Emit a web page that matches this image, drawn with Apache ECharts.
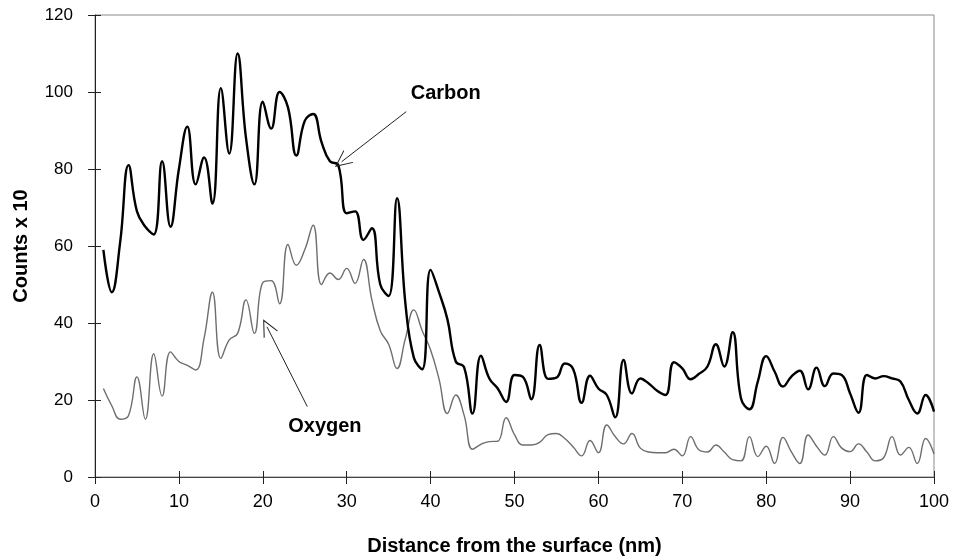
<!DOCTYPE html>
<html>
<head>
<meta charset="utf-8">
<script src="https://cdn.jsdelivr.net/npm/echarts@6/dist/echarts.min.js"></script>
<style>
html,body{margin:0;padding:0;background:#fff;}
#chart{width:954px;height:558px;}
</style>
</head>
<body>
<div id="chart"></div>
<script>
// Distance from the surface (nm)
const distance = [1,2,3,4,5,6,7,8,9,10,11,12,13,14,15,16,17,18,19,20,
  21,22,23,24,25,26,27,28,29,30,31,32,33,34,35,36,37,38,39,40,
  41,42,43,44,45,46,47,48,49,50,51,52,53,54,55,56,57,58,59,60,
  61,62,63,64,65,66,67,68,69,70,71,72,73,74,75,76,77,78,79,80,
  81,82,83,84,85,86,87,88,89,90,91,92,93,94,95,96,97,98,99,100];

// Counts x 10
const carbon = [59,48,61,81,69,65,63,82,65,80,91,76,83,71,101,84,110,88,76,97.5,
  90.5,100,96,83.5,92.5,94.3,87,82,81,68.5,69,61.6,64.6,50,47,72.4,45,31,28,53.8,
  48,41,30,28.5,16.5,31.5,25.6,23,19.5,26.5,26,20.2,34.3,25.5,25.8,29.5,28,19.3,26.3,23,
  21.3,15.5,30.4,21.7,25.6,24.3,22.4,21.3,29.8,28.2,25.4,26.8,28.7,34.5,28.7,37.6,20.4,17.6,24.8,31.4,
  27.4,23.5,26.1,27.6,22.8,28.4,23.6,26.9,26.5,21.7,16.7,26.5,25.6,26.2,25.6,24.8,20,16.5,21.3,17];

const oxygen = [23,18.5,15,16,26,15,32,21,32.5,30,29,27.8,36,48,30.8,35.6,37.3,46,37.3,50.5,
  51,45,60.4,55,59,65.4,50,53,51.3,54.2,50.3,56.5,46,38,34.5,28.2,36,43.4,38,33,
  25.5,16.5,21.3,16,7.2,8.5,9.2,9.3,15.4,11,8.3,8.3,9,11,11.3,10,7.8,5.5,9.5,6.3,
  13.5,10.5,8.6,11.3,7.5,6.5,6.3,6.3,7.2,5.5,10.5,7,6.5,8.3,6.5,4.5,4.2,10.5,5.3,8,
  3.5,10.3,6.5,3.5,10.9,8,5.7,10.5,7.5,6.6,8.6,6.5,4.2,5,10.5,5.7,7.7,3.5,10,6];

const xTicks = [0,10,20,30,40,50,60,70,80,90,100];
const yTicks = [0,20,40,60,80,100,120];

// annotation anchors in data units
const carbonLabel = {text:'Carbon', at:[41.8, 99.6], arrowFrom:[37.1, 94.9], arrowTo:[29.4, 81.9]};
const oxygenLabel = {text:'Oxygen', at:[27.4, 13.0], arrowFrom:[25.3, 18.3], arrowTo:[20.5, 39.0]};

const FONT = '"Liberation Sans", Arial, sans-serif';
const chevron = 'path://M0,10 L5,0 L10,10 L9.3,10 L5,1.4 L0.7,10 Z';

const pairs = (ys) => distance.map((x, i) => [x, ys[i]]);

const chart = echarts.init(document.getElementById('chart'), null, {renderer:'canvas'});

function annot(a) {
  return {
    markLine: {
      silent: true,
      symbol: ['none', chevron],
      symbolSize: [16, 17],
      lineStyle: {color:'#222', width:1, type:'solid'},
      label: {show:false},
      data: [[{coord:a.arrowFrom}, {coord:a.arrowTo}]]
    },
    markPoint: {
      silent: true,
      symbol: 'rect',
      symbolSize: [1,1],
      itemStyle: {color:'rgba(0,0,0,0)'},
      label: {show:true, position:'inside', formatter:a.text, color:'#000',
              fontFamily:FONT, fontWeight:'bold', fontSize:20},
      data: [{coord:a.at}]
    }
  };
}

const baseX = {type:'value', min:0, max:100, interval:10, splitLine:{show:false}};
const baseY = {type:'value', min:0, max:120, interval:20, splitLine:{show:false}};

chart.setOption({
  animation: false,
  backgroundColor: '#fff',
  grid: {left:95, right:20, top:15, bottom:81, show:true, borderColor:'#8a8a8a', borderWidth:1,
         containLabel:false, outerBoundsMode:'none'},
  xAxis: [
    Object.assign({}, baseX, {
      name:'Distance from the surface (nm)', nameLocation:'middle', nameGap:59,
      nameTextStyle:{fontFamily:FONT, fontWeight:'bold', fontSize:20, color:'#000'},
      axisLine:{show:true, onZero:false, lineStyle:{color:'#444', width:1}},
      axisTick:{show:true, length:7, lineStyle:{color:'#222'}},
      axisLabel:{fontFamily:FONT, fontSize:18, color:'#000', margin:16,
        formatter:(v)=> xTicks.includes(v) ? String(v) : ''}
    }),
    Object.assign({}, baseX, {
      position:'bottom',
      axisLine:{show:false, onZero:false},
      axisTick:{show:true, inside:true, length:6, lineStyle:{color:'#222'}},
      axisLabel:{show:false}
    })
  ],
  yAxis: [
    Object.assign({}, baseY, {
      name:'Counts x 10', nameLocation:'middle', nameGap:64,
      nameTextStyle:{fontFamily:FONT, fontWeight:'bold', fontSize:20, color:'#000'},
      axisLine:{show:true, lineStyle:{color:'#222', width:1}},
      axisTick:{show:true, length:7, lineStyle:{color:'#222'}},
      axisLabel:{fontFamily:FONT, fontSize:17, color:'#000', margin:22,
        formatter:(v)=> yTicks.includes(v) ? String(v) : ''}
    }),
    Object.assign({}, baseY, {
      position:'left',
      axisLine:{show:false},
      axisTick:{show:true, inside:true, length:6, lineStyle:{color:'#222'}},
      axisLabel:{show:false}
    })
  ],
  series: [
    Object.assign({
      name:'Carbon', type:'line', data:pairs(carbon), smooth:0.45, showSymbol:false, symbol:'none',
      lineStyle:{color:'#000', width:2.4}, z:3
    }, annot(carbonLabel)),
    Object.assign({
      name:'Oxygen', type:'line', data:pairs(oxygen), smooth:0.45, showSymbol:false, symbol:'none',
      lineStyle:{color:'#6e6e6e', width:1.4}, z:2
    }, annot(oxygenLabel))
  ]
});
</script>
</body>
</html>
